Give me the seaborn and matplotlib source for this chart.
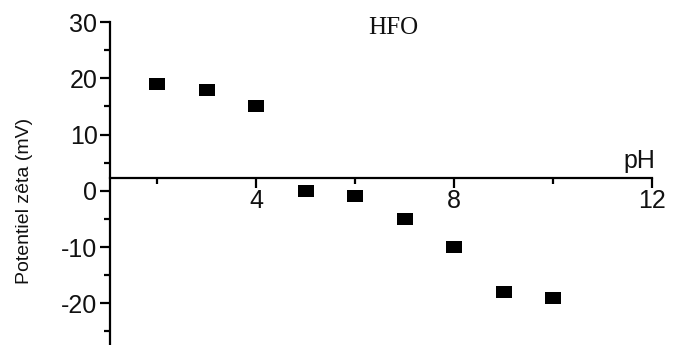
import matplotlib
matplotlib.use("Agg")
import matplotlib.pyplot as plt
import seaborn as sns
import pandas as pd
from matplotlib.ticker import MultipleLocator, FixedLocator

ph = [2, 3, 4, 5, 6, 7, 8, 9, 10]
zeta = [19, 18, 15, 0, -1, -5, -10, -18, -19]
x_ticks = [4, 8, 12]
y_ticks = [-20, -10, 0, 10, 20, 30]

sns.set_theme(style="white")
plt.rcParams['font.family'] = ['Liberation Sans', 'DejaVu Sans']
plt.rcParams['axes.unicode_minus'] = False

df = pd.DataFrame({"pH": ph, "zeta": zeta})

fig = plt.figure(figsize=(6.73, 3.45), dpi=100)
ax = fig.add_axes([110/673, 0.0, (652-110)/673, (345-22)/345])

rect = [(-1.15, -0.9), (1.15, -0.9), (1.15, 0.9), (-1.15, 0.9), (-1.15, -0.9)]
sns.scatterplot(data=df, x="pH", y="zeta", marker=rect, s=120, color="black",
                edgecolor="black", linewidth=0, ax=ax, legend=False, clip_on=False)

ax.set_xlim(1.05, 12)
ax.set_ylim(-27.4, 30)

for s in ["top", "right"]:
    ax.spines[s].set_visible(False)
ax.spines["left"].set_linewidth(1.6)
ax.spines["bottom"].set_linewidth(1.6)
ax.spines["left"].set_color("black")
ax.spines["bottom"].set_color("black")
ax.spines["bottom"].set_position(("data", 2.3))

ax.xaxis.set_major_locator(FixedLocator(x_ticks))
ax.xaxis.set_minor_locator(FixedLocator([2, 6, 10]))
ax.yaxis.set_major_locator(FixedLocator(y_ticks))
ax.yaxis.set_minor_locator(MultipleLocator(5))

ax.tick_params(axis="both", which="major", direction="out", length=7, width=1.6,
               color="black", labelsize=18, labelcolor="#111111", bottom=True, left=True)
ax.tick_params(axis="both", which="minor", direction="out", length=4, width=1.6,
               color="black", bottom=True, left=True)
ax.tick_params(axis="x", which="major", pad=1)
ax.tick_params(axis="y", which="major", pad=2)

ax.set_xlabel("")
ax.set_ylabel("")
ax.grid(False)

fig.text(25/673, 1 - 201/345, "Potentiel zêta (mV)", rotation=90, ha="center", va="center",
         fontsize=14, color="#111111")
fig.text(393/673, 1 - 28/345, "HFO", ha="center", va="center", fontsize=18,
         family=["Liberation Serif", "DejaVu Serif"], color="#111111")
fig.text(639/673, 1 - 161/345, "pH", ha="center", va="center", fontsize=18, color="#111111")

fig.savefig("out.png", dpi=100)
